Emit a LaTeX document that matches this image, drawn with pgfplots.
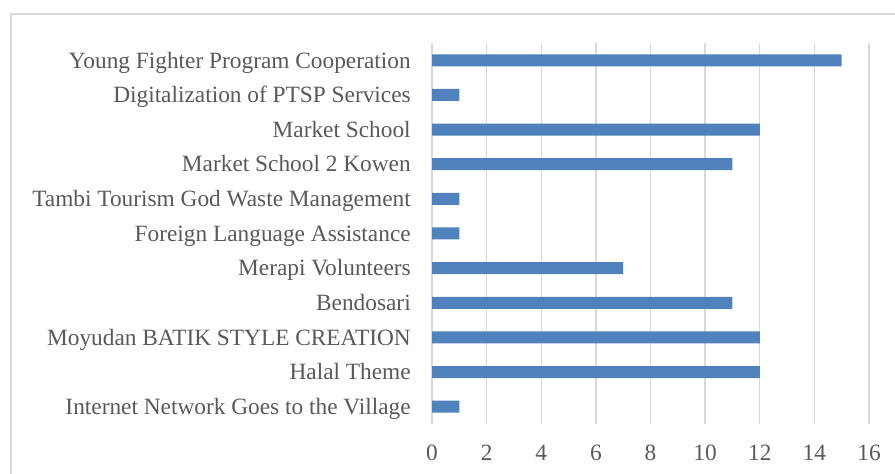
\documentclass[border=0pt]{standalone}
\usepackage{pgfplots}
\pgfplotsset{compat=1.18}
\usepackage{fontspec}
\setmainfont{Liberation Serif}
\definecolor{barblue}{HTML}{4F81BD}
\definecolor{gridgray}{HTML}{D9D9D9}
\definecolor{txtgray}{HTML}{595959}
\begin{document}
\begin{tikzpicture}[x=0.75pt,y=0.75pt]
\path[use as bounding box] (0,0) rectangle (895,474);
\draw[gridgray, line width=1.2pt] (11,-5) -- (11,460) -- (900,460);
\begin{axis}[
  at={(324pt,37.5pt)}, anchor=south west,
  scale only axis, width=327.75pt, height=285.75pt,
  xbar, bar width=9pt,
  xmin=0, xmax=16, ymin=-0.5, ymax=10.5,
  xtick={0,2,...,16}, ytick={0,...,10},
  yticklabels={Internet Network Goes to the Village, Halal Theme, Moyudan BATIK STYLE CREATION, Bendosari, Merapi Volunteers, Foreign Language Assistance, Tambi Tourism God Waste Management, Market School 2 Kowen, Market School, Digitalization of PTSP Services, Young Fighter Program Cooperation},
  axis line style={draw=none},
  major tick length=0pt,
  xmajorgrids, grid style={gridgray, line width=1.1pt},
  /pgf/number format/assume math mode=true,
  ticklabel style={font=\fontsize{17.5}{20}\selectfont, text=txtgray, inner sep=0pt},
  yticklabel style={anchor=base east, xshift=-15.75pt, yshift=-5.8pt},
  xticklabel style={anchor=north, yshift=-15.75pt},
]
\addplot[fill=barblue, draw=none] coordinates {
(1,0) (12,1) (12,2) (11,3) (7,4) (1,5) (1,6) (11,7) (12,8) (1,9) (15,10)
};
\end{axis}
\end{tikzpicture}
\end{document}
